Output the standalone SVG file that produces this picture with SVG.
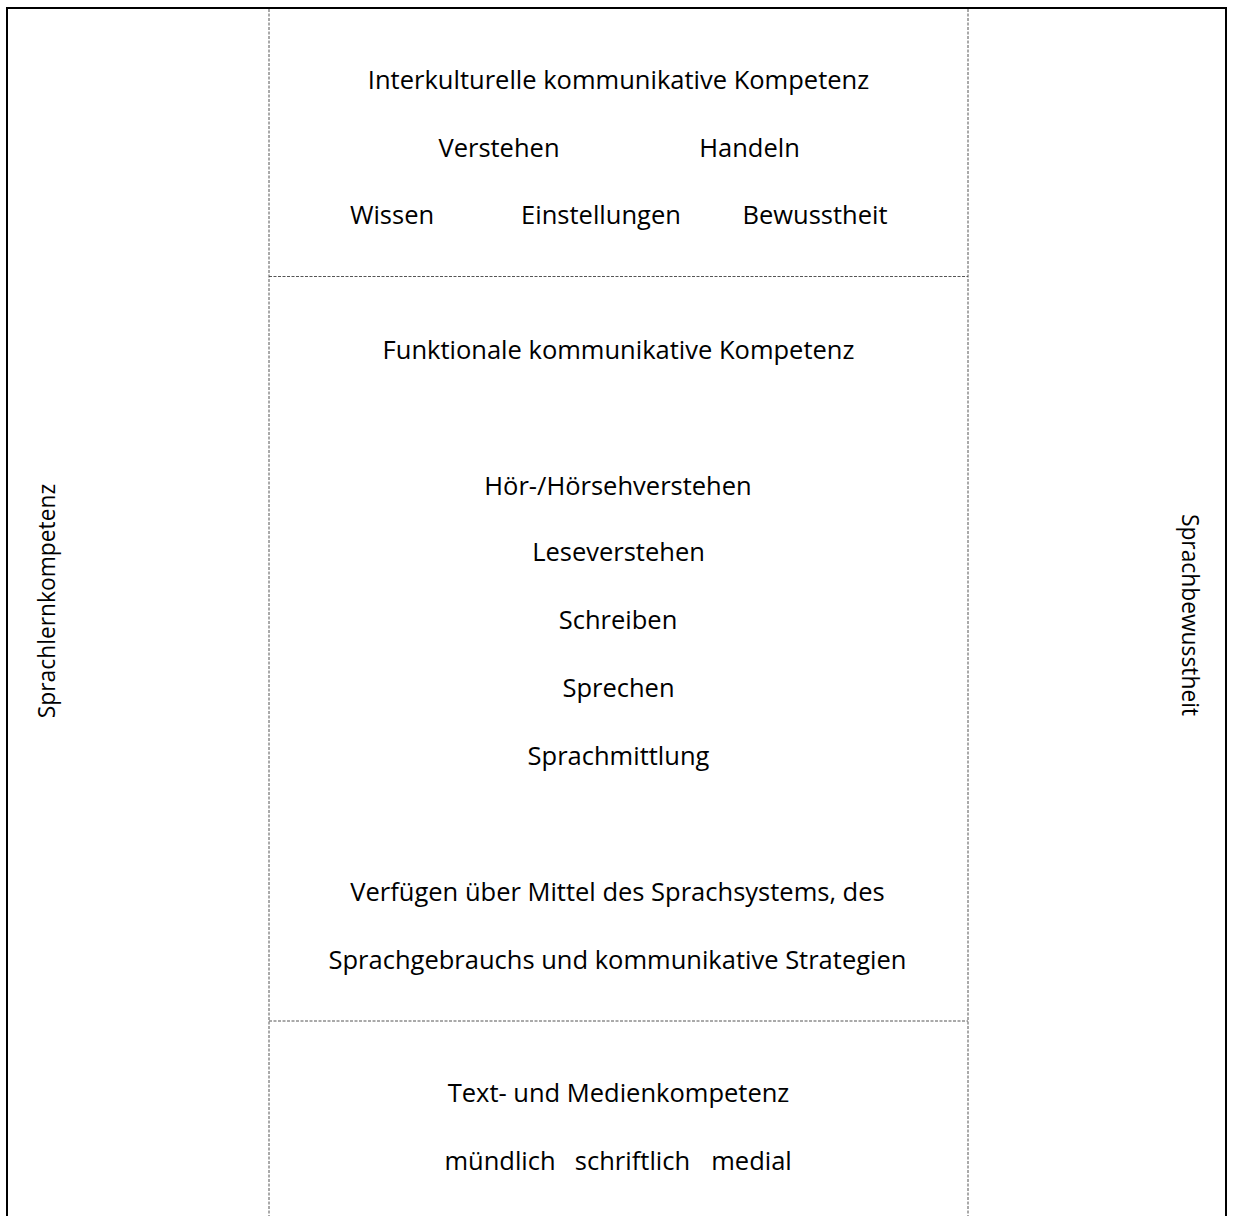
<svg xmlns="http://www.w3.org/2000/svg" width="1234" height="1216" viewBox="0 0 1234 1216">
<style>
.t{font-family:"Open Sans","Liberation Sans",sans-serif;font-size:25.5px;fill:#000;text-anchor:middle}
.s{font-family:"Open Sans","Liberation Sans",sans-serif;font-size:22.8px;fill:#000;text-anchor:middle}
.b{stroke:#000;stroke-width:2;fill:none}
.d{stroke:#555;stroke-width:1;stroke-dasharray:3 1.5;fill:none}
</style>
<rect width="1234" height="1216" fill="#fff"/>
<g id="frame">
<path class="b" d="M7 1216 V8 H1226 V1216"/>
</g>
<g id="connectors">
<line class="d" x1="269" y1="9" x2="269" y2="1216"/>
<line class="d" x1="968" y1="9" x2="968" y2="1216"/>
<line class="d" x1="269" y1="276.5" x2="968" y2="276.5"/>
<line class="d" x1="269" y1="1021" x2="968" y2="1021"/>
</g>
<g id="sprachlernkompetenz">
<text class="s" transform="translate(55,601) rotate(-90)">Sprachlernkompetenz</text>
</g>
<g id="sprachbewusstheit">
<text class="s" transform="translate(1182,615) rotate(90)">Sprachbewusstheit</text>
</g>
<g id="interkulturell">
<text class="t" x="618.5" y="89">Interkulturelle kommunikative Kompetenz</text>
<text class="t" x="499" y="157">Verstehen</text>
<text class="t" x="749.5" y="157">Handeln</text>
<text class="t" x="392" y="224">Wissen</text>
<text class="t" x="601" y="224">Einstellungen</text>
<text class="t" x="815" y="224">Bewusstheit</text>
</g>
<g id="funktional">
<text class="t" x="618.5" y="359">Funktionale kommunikative Kompetenz</text>
<text class="t" x="618" y="495">Hör-/Hörsehverstehen</text>
<text class="t" x="618.5" y="561">Leseverstehen</text>
<text class="t" x="618" y="629">Schreiben</text>
<text class="t" x="618.5" y="697">Sprechen</text>
<text class="t" x="618.5" y="765">Sprachmittlung</text>
<text class="t" x="617.5" y="901">Verfügen über Mittel des Sprachsystems, des</text>
<text class="t" x="617.5" y="969">Sprachgebrauchs und kommunikative Strategien</text>
</g>
<g id="textmedien">
<text class="t" x="618.5" y="1102">Text- und Medienkompetenz</text>
<text class="t" x="500" y="1170">mündlich</text>
<text class="t" x="632.5" y="1170">schriftlich</text>
<text class="t" x="751.5" y="1170">medial</text>
</g>
</svg>
